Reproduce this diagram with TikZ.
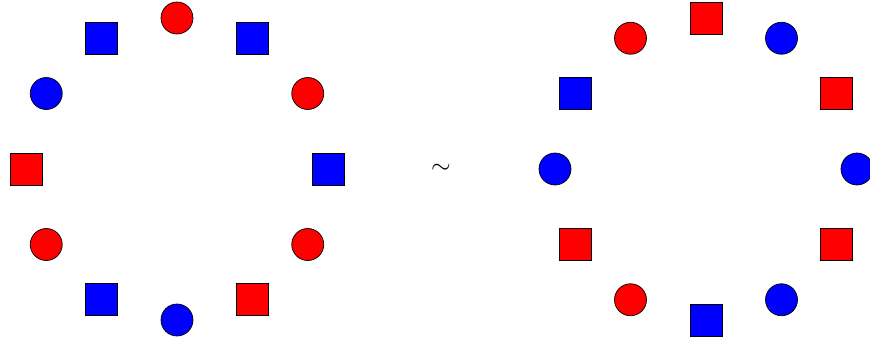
\documentclass[tikz,border=0pt]{standalone}
\usetikzlibrary{calc}

\begin{document}
\begin{tikzpicture}[
		x=0.02cm, y=0.02cm,
		token/.style={draw=black, thin, minimum size=0.64cm, inner sep=0pt},
		rcirc/.style={token, circle, fill=red},
		bcirc/.style={token, circle, fill=blue},
		rsq/.style={token, rectangle, fill=red},
		bsq/.style={token, rectangle, fill=blue}
	]

	\useasboundingbox (0, 0) rectangle (870, 346);

	\coordinate (l_ctr) at (177, 177);
	\coordinate (r_ctr) at (706, 177);

	% Left ring
	\node[rcirc] (l_s1) at ($(l_ctr)+(90:151)$) {};
	\node[bsq] (l_s2) at ($(l_ctr)+(60:151)$) {};
	\node[rcirc] (l_s3) at ($(l_ctr)+(30:151)$) {};
	\node[bsq] (l_s4) at ($(l_ctr)+(0:151)$) {};
	\node[rcirc] (l_s5) at ($(l_ctr)+(-30:151)$) {};
	\node[rsq] (l_s6) at ($(l_ctr)+(-60:151)$) {};
	\node[bcirc] (l_s7) at ($(l_ctr)+(-90:151)$) {};
	\node[bsq] (l_s8) at ($(l_ctr)+(-120:151)$) {};
	\node[rcirc] (l_s9) at ($(l_ctr)+(-150:151)$) {};
	\node[rsq] (l_s10) at ($(l_ctr)+(180:151)$) {};
	\node[bcirc] (l_s11) at ($(l_ctr)+(150:151)$) {};
	\node[bsq] (l_s12) at ($(l_ctr)+(120:151)$) {};

	% Equivalence sign
	\node[font=\Large] (sim) at (441, 177) {$\sim$};

	% Right ring
	\node[rsq] (r_s1) at ($(r_ctr)+(90:151)$) {};
	\node[bcirc] (r_s2) at ($(r_ctr)+(60:151)$) {};
	\node[rsq] (r_s3) at ($(r_ctr)+(30:151)$) {};
	\node[bcirc] (r_s4) at ($(r_ctr)+(0:151)$) {};
	\node[rsq] (r_s5) at ($(r_ctr)+(-30:151)$) {};
	\node[bcirc] (r_s6) at ($(r_ctr)+(-60:151)$) {};
	\node[bsq] (r_s7) at ($(r_ctr)+(-90:151)$) {};
	\node[rcirc] (r_s8) at ($(r_ctr)+(-120:151)$) {};
	\node[rsq] (r_s9) at ($(r_ctr)+(-150:151)$) {};
	\node[bcirc] (r_s10) at ($(r_ctr)+(180:151)$) {};
	\node[bsq] (r_s11) at ($(r_ctr)+(150:151)$) {};
	\node[rcirc] (r_s12) at ($(r_ctr)+(120:151)$) {};

\end{tikzpicture}
\end{document}
